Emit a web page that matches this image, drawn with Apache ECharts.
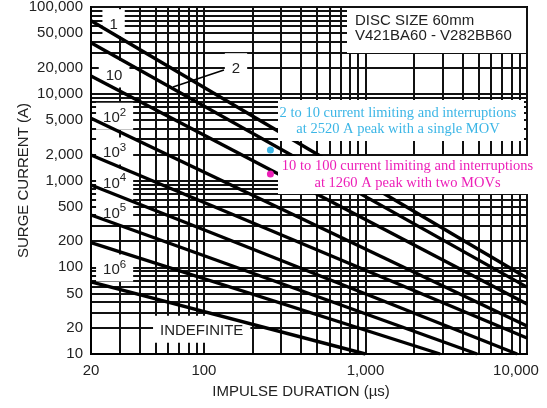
<!DOCTYPE html>
<html>
  <head>
    <meta charset="utf-8" />
    <title>Surge rating 60mm</title>
    <script src="https://cdn.jsdelivr.net/npm/echarts@6/dist/echarts.min.js"></script>
  </head>
  <body style="margin:0;background:#fff;">
    <div id="main" style="width: 547px;height:408px;"></div>
    <script type="text/javascript">
      // tick labels
      var xTicks = [20, 100, 1000, 10000];
      var yTicks = [10, 20, 50, 100, 200, 500, 1000, 2000, 5000, 10000, 20000, 50000, 100000];
      // grid lines (log paper)
      var xGrid = [20, 30, 40, 50, 60, 70, 80, 90,
        100, 200, 300, 400, 500, 600, 700, 800, 900,
        1000, 2000, 3000, 4000, 5000, 6000, 7000, 8000, 9000, 10000];
      var yGrid = [10, 20, 30, 40, 50, 60, 70, 80, 90,
        100, 200, 300, 400, 500, 600, 700, 800, 900,
        1000, 2000, 3000, 4000, 5000, 6000, 7000, 8000, 9000,
        10000, 20000, 30000, 40000, 50000, 60000, 70000, 80000, 90000, 100000];

      // number of pulses for each rating curve
      var pulses = ["1", "2", "10", "10^2", "10^3", "10^4", "10^5", "10^6", "INDEFINITE"];
      // curves: [duration us, current A]
      var curve1 = [[20, 69500], [10000, 75]];
      var curve2 = [[20, 38800], [10000, 59]];
      var curve10 = [[20, 16000], [10000, 37.7]];
      var curve1e2 = [[20, 5210], [10000, 21]];
      var curve1e3 = [[20, 1970], [10000, 15.3]];
      var curve1e4 = [[20, 887], [8690, 10]];
      var curve1e5 = [[20, 400], [4910, 10]];
      var curve1e6 = [[20, 192], [2900, 10]];
      var curveIndef = [[20, 68], [1000, 10]];
      var curves = [curve1, curve2, curve10, curve1e2, curve1e3, curve1e4, curve1e5, curve1e6, curveIndef];

      // marked operating points (single MOV, two MOVs)
      var singleMov = [258, 2250];
      var twoMovs = [258, 1190];

      // where the curve names sit (data coords)
      var labelAt = [[27.6, 65900], [158, 20500], [27.8, 16900], [28, 5500], [28, 2190],
        [28, 968], [28, 439], [28, 98], [96.9, 19.3]];
      var arrowFrom = [133, 18790];
      var arrowTo = [64.4, 11960];

      var font = "Liberation Sans";
      var ink = "#222";

      function fmt(v) {
        return String(Math.round(v)).replace(/\B(?=(\d{3})+(?!\d))/g, ",");
      }

      var myChart = echarts.init(document.getElementById("main"));

      var series = [];
      curves.forEach(function (c, i) {
        series.push({
          name: pulses[i],
          type: "line",
          data: c,
          showSymbol: false,
          z: 2,
          silent: true,
          lineStyle: { color: "#000", width: 3.4 }
        });
      });

      // curve names with white boxes
      series.push({
        name: "labels",
        type: "scatter",
        z: 1,
        silent: true,
        symbolSize: 0,
        itemStyle: { opacity: 1 },
        data: labelAt.map(function (p, i) {
          return { value: p, name: pulses[i] };
        }),
        label: {
          show: true,
          position: "inside",
          opacity: 1,
          backgroundColor: "#fff",
          padding: [4, 7],
          formatter: function (p) {
            var n = p.name;
            if (n.indexOf("^") > 0) {
              var s = n.split("^");
              return "{b|" + s[0] + "}{s|" + s[1] + "}";
            }
            return "{b|" + n + "}";
          },
          rich: {
            b: { fontSize: 15, fontFamily: font, color: ink, lineHeight: 19, verticalAlign: "bottom" },
            s: { fontSize: 11.5, fontFamily: font, color: ink, lineHeight: 12, verticalAlign: "top" }
          }
        }
      });

      // arrow pointing to curve "2"
      series.push({
        name: "arrow",
        type: "line",
        data: [],
        z: 3,
        markLine: {
          silent: true,
          symbol: ["none", "arrow"],
          symbolSize: [0, 10],
          label: { show: false },
          lineStyle: { color: "#000", width: 1.6, type: "solid" },
          data: [[{ coord: arrowFrom }, { coord: arrowTo }]]
        }
      });

      // the two marked points
      series.push({
        name: "points",
        type: "scatter",
        z: 12,
        silent: true,
        symbolSize: 7,
        itemStyle: { opacity: 1 },
        data: [
          { value: singleMov, itemStyle: { color: "#3cb6e6" } },
          { value: twoMovs, itemStyle: { color: "#ec1fb8" } }
        ]
      });

      var option = {
        backgroundColor: "#fff",
        animation: false,
        grid: {
          left: 91,
          right: 20,
          top: 7,
          bottom: 54,
          show: true,
          borderColor: "#000",
          borderWidth: 2,
          outerBoundsMode: "none"
        },
        xAxis: {
          type: "log",
          logBase: 10,
          min: 20,
          max: 10000,
          name: "IMPULSE DURATION (\u00b5s)",
          nameLocation: "middle",
          nameGap: 30,
          nameMoveOverlap: false,
          nameTextStyle: { fontSize: 15, fontFamily: font, color: ink, padding: [0, 16, 0, 0] },
          axisLine: { lineStyle: { color: "#000", width: 2 } },
          axisTick: { show: false, customValues: xGrid },
          splitLine: { show: true, lineStyle: { color: "#111", width: 2 } },
          axisLabel: {
            customValues: xTicks,
            margin: 9,
            fontSize: 15,
            fontFamily: font,
            color: ink,
            formatter: function (v) {
              return v >= 10000 ? "{r|" + fmt(v) + "}" : fmt(v);
            },
            rich: {
              r: { fontSize: 15, fontFamily: font, color: ink, padding: [0, 22, 0, 0] }
            }
          }
        },
        yAxis: {
          type: "log",
          logBase: 10,
          min: 10,
          max: 100000,
          name: "SURGE CURRENT (A)",
          nameLocation: "middle",
          nameGap: 60,
          nameMoveOverlap: false,
          nameTextStyle: { fontSize: 15, fontFamily: font, color: ink },
          axisLine: { lineStyle: { color: "#000", width: 2 } },
          axisTick: { show: false, customValues: yGrid },
          splitLine: { show: true, lineStyle: { color: "#111", width: 2 } },
          axisLabel: {
            customValues: yTicks,
            margin: 8,
            fontSize: 15,
            fontFamily: font,
            color: ink,
            formatter: fmt
          }
        },
        graphic: [
          {
            type: "rect",
            z: 10,
            shape: { x: 347, y: 8, width: 179, height: 45 },
            style: { fill: "#fff" }
          },
          {
            type: "text",
            z: 11,
            style: {
              text: "DISC SIZE 60mm\nV421BA60 - V282BB60",
              x: 355,
              y: 28.5,
              textVerticalAlign: "middle",
              fontSize: 15,
              fontFamily: font,
              lineHeight: 15,
              fill: ink
            }
          },
          {
            type: "rect",
            z: 10,
            shape: { x: 278, y: 100, width: 246, height: 41 },
            style: { fill: "#fff" }
          },
          {
            type: "text",
            z: 11,
            style: {
              text: "2 to 10 current limiting and interruptions\nat 2520 A peak with a single MOV",
              x: 398,
              y: 121,
              textAlign: "center",
              textVerticalAlign: "middle",
              fontSize: 14.5,
              fontFamily: "Liberation Serif",
              lineHeight: 16,
              fill: "#3cb6e6"
            }
          },
          {
            type: "rect",
            z: 10,
            shape: { x: 278, y: 156, width: 262, height: 38 },
            style: { fill: "#fff" }
          },
          {
            type: "text",
            z: 11,
            style: {
              text: "10 to 100 current limiting and interruptions\nat 1260 A peak with two MOVs",
              x: 407.5,
              y: 174.5,
              textAlign: "center",
              textVerticalAlign: "middle",
              fontSize: 14.5,
              fontFamily: "Liberation Serif",
              lineHeight: 17.5,
              fill: "#ec1fb8"
            }
          }
        ],
        series: series
      };

      myChart.setOption(option);
    </script>
  </body>
</html>
